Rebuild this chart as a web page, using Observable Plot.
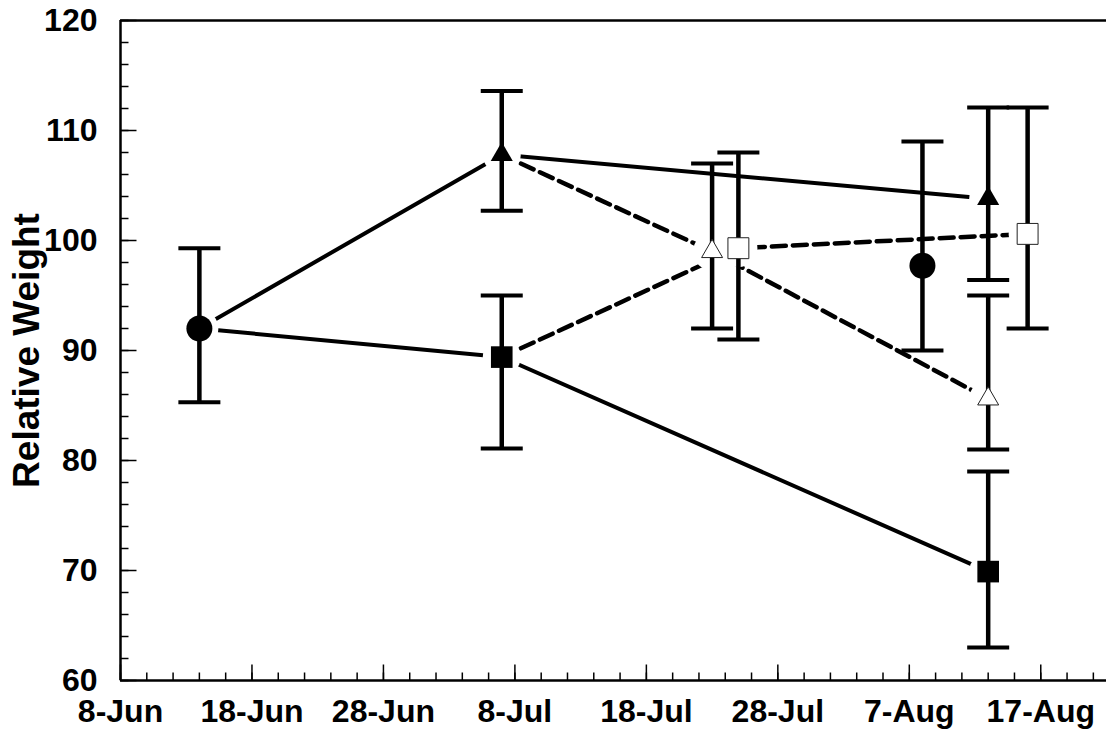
<!DOCTYPE html>
<html><head><meta charset="utf-8">
<script src="https://cdn.jsdelivr.net/npm/d3@7"></script>
<script src="https://cdn.jsdelivr.net/npm/@observablehq/plot@0.6"></script>
<style>html,body{margin:0;padding:0;background:#fff;overflow:hidden}</style>
</head><body><div id="chart"></div>
<script>
// ---- axis definitions ----
const xStart = "2004-06-08", xEnd = "2004-08-22";
const xTickLabels = ["2004-06-08","2004-06-18","2004-06-28","2004-07-08","2004-07-18","2004-07-28","2004-08-07","2004-08-17"];
const yTickLabels = [60, 70, 80, 90, 100, 110, 120];
const yTitle = "Relative Weight";

// ---- series: filled circle ----
const circleDates = ["2004-06-14", "2004-08-08"];
const circleMean  = [92.0, 97.7];
const circleLow   = [85.3, 90.0];
const circleHigh  = [99.3, 109.0];
// ---- series: filled triangle ----
const triDates = ["2004-07-07", "2004-08-13"];
const triMean  = [107.8, 103.8];
const triLow   = [102.7, 96.4];
const triHigh  = [113.6, 112.1];
// ---- series: filled square ----
const sqDates = ["2004-07-07", "2004-08-13"];
const sqMean  = [89.4, 69.9];
const sqLow   = [81.1, 63.0];
const sqHigh  = [95.0, 79.0];
// ---- series: open triangle ----
const oTriDates = ["2004-07-23", "2004-08-13"];
const oTriMean  = [99.0, 85.6];
const oTriLow   = [92.0, 81.0];
const oTriHigh  = [107.0, 95.0];
// ---- series: open square ----
const oSqDates = ["2004-07-25", "2004-08-16"];
const oSqMean  = [99.3, 100.6];
const oSqLow   = [91.0, 92.0];
const oSqHigh  = [108.0, 112.1];

const parse = d3.utcParse("%Y-%m-%d");
const pts = (dates, mean, low, high) => dates.map((d, i) => ({date: parse(d), mean: mean[i], low: low[i], high: high[i]}));
const circles = pts(circleDates, circleMean, circleLow, circleHigh);
const tris = pts(triDates, triMean, triLow, triHigh);
const sqs = pts(sqDates, sqMean, sqLow, sqHigh);
const oTris = pts(oTriDates, oTriMean, oTriLow, oTriHigh);
const oSqs = pts(oSqDates, oSqMean, oSqLow, oSqHigh);
const all = [...circles, ...tris, ...sqs, ...oTris, ...oSqs];

const solid = [
  ...[circles[0], tris[0], tris[1]].map(p => ({...p, s: "tri"})),
  ...[circles[0], sqs[0], sqs[1]].map(p => ({...p, s: "sq"}))
];
const dashed = [
  ...[tris[0], oTris[0], oTris[1]].map(p => ({...p, s: "otri"})),
  ...[sqs[0], oSqs[0], oSqs[1]].map(p => ({...p, s: "osq"}))
];

const x0 = parse(xStart);
const xMajor = xTickLabels.map(parse);
const xMinor = d3.utcDay.range(x0, parse(xEnd), 2);
const yMinor = d3.range(60, 121, 2);

const hLine = half => ({draw(ctx) { ctx.moveTo(-half, 0); ctx.lineTo(half, 0); }});
const rightTick = len => ({draw(ctx) { ctx.moveTo(0, 0); ctx.lineTo(len, 0); }});
const upTick = len => ({draw(ctx) { ctx.moveTo(0, 0); ctx.lineTo(0, -len); }});

const chart = Plot.plot({
  width: 1106, height: 733,
  marginLeft: 120, marginRight: 0, marginTop: 20, marginBottom: 53,
  x: {type: "utc", domain: [x0, parse(xEnd)]},
  y: {domain: [60, 120]},
  style: {fontFamily: "'Liberation Sans', Arial, sans-serif", fontWeight: "bold", fontSize: "32px", color: "black", background: "white", overflow: "visible"},
  marks: [
    Plot.axisX({ticks: xMajor, tickSize: 0, tickPadding: 19, tickFormat: d3.utcFormat("%-d-%b"), fontSize: 32, fontWeight: "bold", label: null}),
    Plot.axisY({ticks: yTickLabels, tickSize: 0, tickPadding: 23, tickFormat: d => d, fontSize: 32, fontWeight: "bold", label: null}),
    // inward tick marks
    Plot.dot(yMinor, {x: () => x0, y: d => d, symbol: rightTick(8), stroke: "black", strokeWidth: 1.5, fill: "none"}),
    Plot.dot(yTickLabels, {x: () => x0, y: d => d, symbol: rightTick(16), stroke: "black", strokeWidth: 1.5, fill: "none"}),
    Plot.dot(xMinor, {x: d => d, y: () => 60, symbol: upTick(8), stroke: "black", strokeWidth: 1.5, fill: "none"}),
    Plot.dot(xMajor, {x: d => d, y: () => 60, symbol: upTick(16), stroke: "black", strokeWidth: 1.5, fill: "none"}),
    // frame
    Plot.ruleY([60, 120], {stroke: "black", strokeWidth: 2.5}),
    Plot.ruleX([x0], {stroke: "black", strokeWidth: 2.5}),
    // connecting lines
    Plot.line(solid, {x: "date", y: "mean", z: "s", stroke: "black", strokeWidth: 4}),
    Plot.line(dashed, {x: "date", y: "mean", z: "s", stroke: "black", strokeWidth: 4.5, strokeDasharray: "14,7"}),
    // white gaps around markers
    Plot.dot(all, {x: "date", y: "mean", r: 19, fill: "white", stroke: null}),
    // error bars
    Plot.ruleX(all, {x: "date", y1: "low", y2: "high", stroke: "black", strokeWidth: 4.5}),
    Plot.dot(all, {x: "date", y: "low", symbol: hLine(21), stroke: "black", strokeWidth: 4, fill: "none"}),
    Plot.dot(all, {x: "date", y: "high", symbol: hLine(21), stroke: "black", strokeWidth: 4, fill: "none"}),
    // markers
    Plot.dot(circles, {x: "date", y: "mean", r: 13, fill: "black", stroke: null}),
    Plot.dot(tris, {x: "date", y: "mean", symbol: "triangle", r: 8.2, fill: "black", stroke: null}),
    Plot.dot(sqs, {x: "date", y: "mean", symbol: "square", r: 12.2, fill: "black", stroke: null}),
    Plot.dot(oTris, {x: "date", y: "mean", symbol: "triangle", r: 7.8, fill: "white", stroke: "#222", strokeWidth: 1}),
    Plot.dot(oSqs, {x: "date", y: "mean", symbol: "square", r: 11.8, fill: "white", stroke: "#222", strokeWidth: 1}),
    // axis title
    Plot.text([yTitle], {frameAnchor: "left", text: d => d, rotate: -90, dx: -93, textAnchor: "middle", lineAnchor: "middle", fontSize: 37, fontWeight: "bold"})
  ]
});
document.getElementById("chart").appendChild(chart);
</script>
</body></html>
